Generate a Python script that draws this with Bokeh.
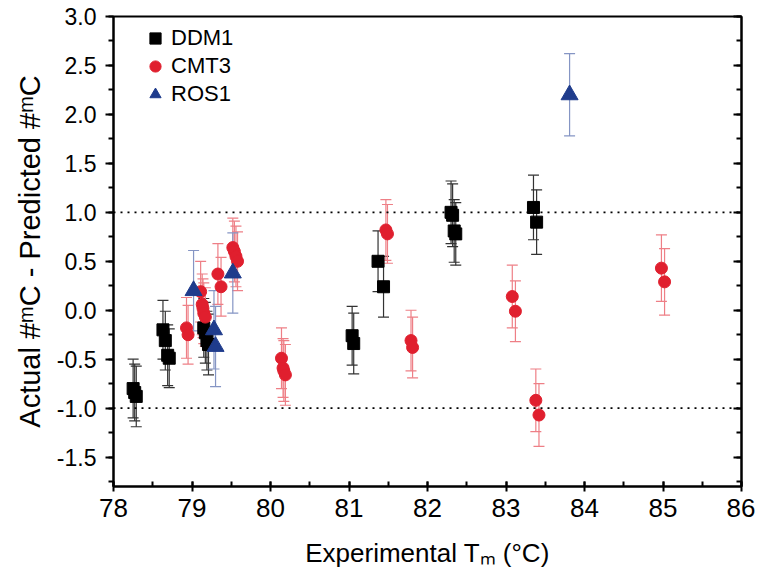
from bokeh.plotting import figure
from bokeh.models import (ColumnDataSource, Whisker, TeeHead, Span, Legend, LegendItem,
                          LinearAxis, SingleIntervalTicker, NumeralTickFormatter, Range1d,
                          CustomJSTickFormatter)
from bokeh.embed import file_html
from bokeh.resources import INLINE

# ---- data ----
ddm1_x = [78.25, 78.27, 78.29, 78.63, 78.66, 78.69, 78.71, 79.15, 79.17, 79.19, 79.21,
          81.04, 81.06, 81.37, 81.44, 82.30, 82.32, 82.34, 82.36, 83.35, 83.39]
ddm1_y = [-0.80, -0.84, -0.88, -0.20, -0.31, -0.46, -0.49, -0.18, -0.23, -0.31, -0.35,
          -0.26, -0.34, 0.50, 0.24, 1.00, 0.97, 0.81, 0.78, 1.05, 0.90]
ddm1_err = [0.30, 0.29, 0.31, 0.30, 0.30, 0.31, 0.30, 0.30, 0.31, 0.30, 0.31,
            0.30, 0.31, 0.31, 0.31, 0.32, 0.32, 0.32, 0.32, 0.33, 0.33]

cmt3_x = [78.93, 78.95, 79.11, 79.13, 79.14, 79.15, 79.17, 79.33, 79.37, 79.52, 79.54,
          79.56, 79.58, 80.14, 80.16, 80.17, 80.19, 81.47, 81.49, 81.79, 81.81, 83.08,
          83.12, 83.38, 83.42, 84.98, 85.02]
cmt3_y = [-0.18, -0.25, 0.19, 0.06, 0.02, -0.03, -0.07, 0.37, 0.24, 0.64, 0.60,
          0.55, 0.50, -0.49, -0.59, -0.62, -0.66, 0.82, 0.78, -0.31, -0.38, 0.14,
          -0.01, -0.92, -1.07, 0.43, 0.29]
cmt3_err = [0.31, 0.30, 0.31, 0.31, 0.30, 0.31, 0.30, 0.31, 0.30, 0.30, 0.31,
            0.31, 0.30, 0.31, 0.30, 0.31, 0.31, 0.31, 0.30, 0.31, 0.31, 0.32,
            0.31, 0.32, 0.32, 0.34, 0.34]

ros1_x = [79.02, 79.28, 79.30, 79.52, 83.81]
ros1_y = [0.20, -0.20, -0.37, 0.38, 2.20]
ros1_err = [0.41, 0.40, 0.41, 0.41, 0.42]

x_ticks_interval = 1
y_ticks_interval = 0.5
ref_lines = [1.0, -1.0]

FONT = "Liberation Sans"

p = figure(frame_width=628, frame_height=470,
           x_range=Range1d(78, 86), y_range=Range1d(-1.8, 3.0),
           output_backend="svg", toolbar_location=None,
           min_border_left=113, min_border_right=14, min_border_top=16, min_border_bottom=88,
           background_fill_color="white", border_fill_color="white")
p.xgrid.visible = False
p.ygrid.visible = False
p.outline_line_color = "black"
p.outline_line_width = 2

# axes
p.xaxis.ticker = SingleIntervalTicker(interval=x_ticks_interval, num_minor_ticks=2)
p.yaxis.ticker = SingleIntervalTicker(interval=y_ticks_interval, num_minor_ticks=2)
p.yaxis.formatter = NumeralTickFormatter(format="0.0")
for ax in (p.xaxis[0], p.yaxis[0]):
    ax.axis_line_width = 2
    ax.axis_line_color = "black"
    ax.major_tick_line_width = 2
    ax.minor_tick_line_width = 2
    ax.major_tick_line_color = "black"
    ax.minor_tick_line_color = "black"
    ax.major_label_text_font = FONT
    ax.axis_label_text_font = FONT
    ax.axis_label_text_font_style = "normal"
    ax.axis_label_text_color = "black"
    ax.major_label_text_color = "black"

p.yaxis.major_tick_out = 8
p.yaxis.major_tick_in = 0
p.yaxis.minor_tick_out = 5
p.yaxis.minor_tick_in = 0
p.yaxis.major_label_text_font_size = "23px"
p.yaxis.major_label_standoff = 9
p.yaxis.axis_label = "Actual #\u1d50C - Predicted #\u1d50C"
p.yaxis.axis_label_text_font_size = "29px"
p.yaxis.axis_label_standoff = 8

p.xaxis.major_tick_out = 5
p.xaxis.major_tick_in = 5
p.xaxis.minor_tick_out = 0
p.xaxis.minor_tick_in = 5
p.xaxis.major_label_text_font_size = "26px"
p.xaxis.major_label_standoff = 7
p.xaxis.axis_label = "Experimental T\u2098 (\u00b0C)"
p.xaxis.axis_label_text_font_size = "26px"
p.xaxis.axis_label_standoff = 18

right = LinearAxis(ticker=SingleIntervalTicker(interval=y_ticks_interval, num_minor_ticks=2),
                   formatter=CustomJSTickFormatter(code="return ''"),
                   major_label_standoff=0,
                   major_tick_in=8, major_tick_out=0, minor_tick_in=5, minor_tick_out=0,
                   major_tick_line_width=2, minor_tick_line_width=2,
                   axis_line_width=2)
p.add_layout(right, "right")

# reference lines
for v in ref_lines:
    p.add_layout(Span(location=v, dimension="width", line_color="black",
                      line_width=1.6, line_dash="2 5"))

def series(xs, ys, es, err_color, marker, color, size):
    src = ColumnDataSource(dict(x=xs, y=ys,
                                lo=[a - b for a, b in zip(ys, es)],
                                hi=[a + b for a, b in zip(ys, es)]))
    w = Whisker(base="x", lower="lo", upper="hi", source=src,
                line_color=err_color, line_width=1.2,
                upper_head=TeeHead(size=11, line_color=err_color, line_width=1.2),
                lower_head=TeeHead(size=11, line_color=err_color, line_width=1.2))
    p.add_layout(w)
    r = p.scatter("x", "y", source=src, marker=marker, size=size,
                  fill_color=color, line_color=color)
    return r

r1 = series(ddm1_x, ddm1_y, ddm1_err, "#333333", "square", "black", 12)
r2 = series(cmt3_x, cmt3_y, cmt3_err, "#ee7f86", "circle", "#e01f2e", 12)
r3 = series(ros1_x, ros1_y, ros1_err, "#8595c4", "triangle", "#1f3c8c", 17)

legend = Legend(items=[LegendItem(label="DDM1", renderers=[r1]),
                       LegendItem(label="CMT3", renderers=[r2]),
                       LegendItem(label="ROS1", renderers=[r3])],
                location=(28, 378), margin=0, padding=0, spacing=0,
                glyph_width=28, glyph_height=28, label_height=28,
                label_standoff=2, label_text_font=FONT, label_text_font_size="22px",
                label_text_color="black",
                border_line_color=None, background_fill_alpha=0)
p.add_layout(legend)

open("out.html", "w").write(file_html(p, INLINE))
